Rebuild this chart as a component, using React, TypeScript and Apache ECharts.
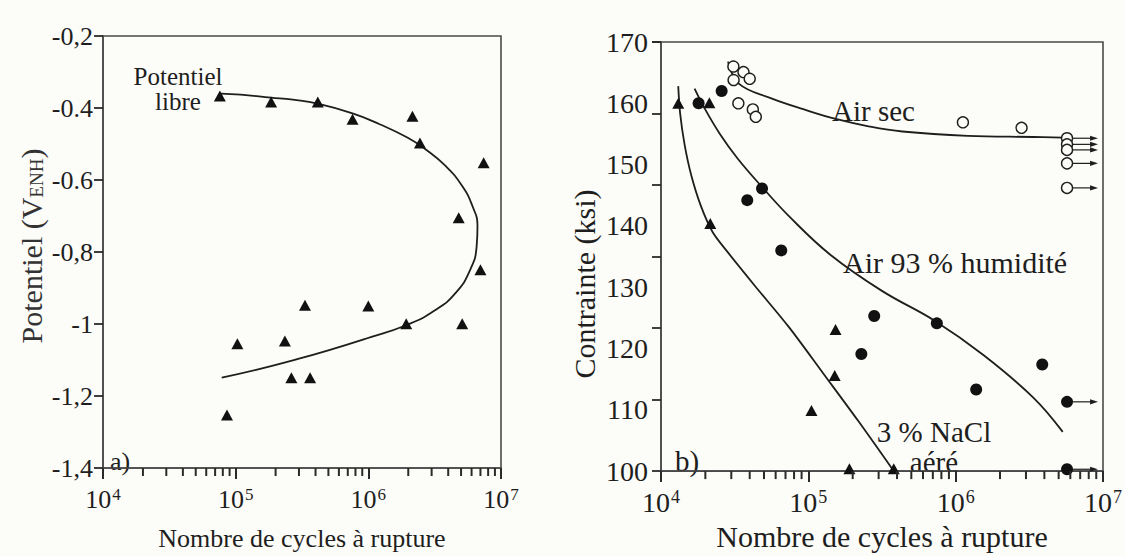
import React, { useEffect, useRef } from "react";
import * as echarts from "echarts";

const FONT = "'Liberation Serif', 'DejaVu Serif', 'Times New Roman', serif";
const INK = "#1e1e1e";
const FRAME = "#4a4a4a";
const TICK = "#2a2a2a";

// ---------- Panel a) : potential vs cycles ----------
const potentialTickLabels: Record<string, string> = {
  "-1.4": "-1,4",
  "-1.2": "-1,2",
  "-1": "-1",
  "-0.8": "-0,8",
  "-0.6": "-0.6",
  "-0.4": "-0.4",
  "-0.2": "-0,2",
};
const minorCycleTicks = [
  2e4, 3e4, 4e4, 5e4, 6e4, 7e4, 8e4, 9e4,
  2e5, 3e5, 4e5, 5e5, 6e5, 7e5, 8e5, 9e5,
  2e6, 3e6, 4e6, 5e6, 6e6, 7e6, 8e6, 9e6,
];
const freePotentialPoints: [number, number][] = [
  [76000, -0.367], [185000, -0.383], [416000, -0.383], [760000, -0.431],
  [2150000, -0.423], [2450000, -0.497], [7400000, -0.552], [4800000, -0.705],
  [7000000, -0.849], [333000, -0.948], [1000000, -0.95], [1930000, -0.999],
  [5100000, -0.999], [103000, -1.055], [235000, -1.047], [263000, -1.149],
  [364000, -1.149], [86000, -1.253],
];
const freePotentialCurve: [number, number][] = [
  [77400, -0.36], [109000, -0.363], [184500, -0.371], [270000, -0.377],
  [416000, -0.388], [760000, -0.415], [1216000, -0.445], [1968000, -0.482],
  [2660000, -0.513], [3820000, -0.561], [5100000, -0.617], [6100000, -0.673],
  [6650000, -0.728], [6550000, -0.785], [5850000, -0.85], [4570000, -0.913],
  [3180000, -0.962], [1968000, -1.002], [955000, -1.041], [492000, -1.074],
  [270000, -1.101], [147600, -1.126], [78500, -1.149],
];

// ---------- Panel b) : stress vs cycles ----------
const stressTicks = [100, 110, 120, 130, 140, 150, 160, 170];
const stressTickMarkStep = 70 / 6; // tick marks of the scanned axis (6 equal steps)
const airSecPoints: [number, number][] = [
  [31000, 166.0], [36300, 165.1], [31100, 163.8], [40000, 164.0],
  [33500, 160.0], [42000, 159.0], [44000, 157.8], [1120000, 156.9],
  [2800000, 156.0], [5700000, 154.3], [5700000, 153.3], [5700000, 152.4],
  [5700000, 150.2], [5700000, 146.2],
];
const airSecRunouts: [number, number][] = [
  [5700000, 154.3], [5700000, 153.3], [5700000, 152.4], [5700000, 150.2], [5700000, 146.2],
];
const airSecCurve: [number, number][] = [
  [28500, 166.8], [33700, 163.2], [56100, 160.8], [93500, 159.0],
  [156000, 157.4], [261000, 156.2], [435000, 155.4], [1208000, 154.7],
  [3365000, 154.5], [5330000, 154.4],
];
const humidPoints: [number, number][] = [
  [18000, 160.0], [25800, 162.0], [38500, 144.2], [48500, 146.1],
  [65500, 136.0], [280000, 125.3], [229000, 119.1], [745000, 124.1],
  [1378000, 113.3], [3870000, 117.4], [5700000, 111.3], [5700000, 100.3],
];
const humidRunouts: [number, number][] = [[5700000, 111.3], [5700000, 100.3]];
const humidCurve: [number, number][] = [
  [16900, 162.4], [19950, 159.0], [25100, 155.0], [33100, 151.0],
  [47900, 146.5], [75900, 141.3], [141000, 135.3], [316000, 129.4],
  [724000, 124.5], [1550000, 118.9], [3365000, 112.0], [5330000, 106.4],
];
const naclPoints: [number, number][] = [
  [13100, 160.0], [21300, 160.1], [21600, 140.4], [153000, 123.1],
  [151000, 115.6], [105000, 109.9], [190000, 100.4], [380000, 100.4],
];
const naclCurve: [number, number][] = [
  [13090, 162.8], [13490, 158.3], [14450, 153.3], [16030, 148.3],
  [18620, 143.3], [22390, 139.0], [28180, 135.8], [43450, 130.2],
  [74300, 123.4], [127400, 115.8], [217800, 108.2], [372400, 100.3],
];

const powLabel = (v: number) => {
  const e = Math.round(Math.log10(v));
  return `{b|10}{s|${e}}`;
};

const runoutSeries = (data: [number, number][]) => ({
  type: "custom",
  xAxisIndex: 1,
  yAxisIndex: 1,
  silent: true,
  clip: false,
  z: 2,
  data,
  renderItem: (_p: any, api: any) => {
    const pt = api.coord([api.value(0), api.value(1)]);
    const x0 = pt[0] + 6;
    const x1 = pt[0] + 31;
    return {
      type: "group",
      children: [
        { type: "line", shape: { x1: x0, y1: pt[1], x2: x1 - 5, y2: pt[1] }, style: { stroke: INK, lineWidth: 1.2 } },
        {
          type: "polygon",
          shape: { points: [[x1, pt[1]], [x1 - 8, pt[1] - 2.6], [x1 - 8, pt[1] + 2.6]] },
          style: { fill: INK },
        },
      ],
    };
  },
});

const xAxisBase = (gridIndex: number, fs: number, sup: number, margin: number, nameGap: number, nameSize: number) => ({
  type: "log",
  gridIndex,
  logBase: 10,
  min: 1e4,
  max: 1e7,
  name: "Nombre de cycles à rupture",
  nameLocation: "middle",
  nameGap,
  nameTextStyle: { fontFamily: FONT, fontSize: nameSize, color: INK },
  axisLine: { show: true, lineStyle: { color: FRAME, width: 1.6 } },
  axisTick: { show: true, inside: false, length: 11, lineStyle: { color: TICK, width: 2 } },
  minorTick: { show: false },
  splitLine: { show: false },
  axisLabel: {
    margin,
    formatter: powLabel,
    rich: {
      b: { fontFamily: FONT, fontSize: fs, color: INK },
      s: { fontFamily: FONT, fontSize: sup, color: INK, verticalAlign: "top", padding: [0, 0, 0, 1] },
    },
  },
});

const buildGraphics = (minorTicks: any[]) => [
  ...minorTicks,
  {
    type: "text",
    x: 31,
    y: 246,
    rotation: Math.PI / 2,
    style: {
      text: "{a|Potentiel (V}{sub|ENH}{a|)}",
      align: "center",
      verticalAlign: "middle",
      rich: {
        a: { fontFamily: FONT, fontSize: 30, fill: "#333", color: "#333" },
        sub: { fontFamily: FONT, fontSize: 19, fill: "#333", color: "#333", verticalAlign: "bottom" },
      },
    },
  },
  {
    type: "text",
    x: 584,
    y: 284,
    rotation: Math.PI / 2,
    style: { text: "Contrainte (ksi)", font: `30px ${FONT}`, fill: INK, align: "center", verticalAlign: "middle" },
  },
  {
    type: "text",
    x: 178,
    y: 64,
    style: { text: "Potentiel\nlibre", font: `25px ${FONT}`, fill: INK, align: "center", lineHeight: 25 },
  },
  { type: "text", left: 110, top: 448, style: { text: "a)", font: `26px ${FONT}`, fill: INK } },
  { type: "text", left: 832, top: 96, style: { text: "Air sec", font: `29px ${FONT}`, fill: INK } },
  { type: "text", left: 843, top: 247, style: { text: "Air 93 % humidité", font: `30px ${FONT}`, fill: INK } },
  {
    type: "text",
    x: 934,
    y: 417,
    style: { text: "3 % NaCl\naéré", font: `29px ${FONT}`, fill: INK, align: "center", lineHeight: 30 },
  },
  { type: "text", left: 675, top: 446, style: { text: "b)", font: `29px ${FONT}`, fill: INK } },
];

const App: React.FC = () => {
  const ref = useRef<HTMLDivElement>(null);

  useEffect(() => {
    if (!ref.current) return;
    const chart = echarts.init(ref.current, undefined, { renderer: "svg" });

    const option: any = {
      animation: false,
      backgroundColor: "#fcfcf8",
      grid: [
        { left: 103, top: 36, width: 398, height: 436, show: true, borderColor: FRAME, borderWidth: 1.6, backgroundColor: "transparent" },
        { left: 661, top: 42, width: 450, height: 440, show: true, borderColor: FRAME, borderWidth: 1.6, backgroundColor: "transparent" },
      ],
      xAxis: [xAxisBase(0, 26, 17, 18, 57, 26), xAxisBase(1, 28, 18, 17, 44, 30)],
      yAxis: [
        {
          type: "value",
          gridIndex: 0,
          position: "left",
          min: -1.4,
          max: -0.2,
          interval: 0.2,
          axisLine: { show: true, lineStyle: { color: FRAME, width: 1.6 } },
          axisTick: { show: true, length: 9, lineStyle: { color: TICK, width: 1.8 } },
          splitLine: { show: false },
          axisLabel: {
            margin: 10,
            fontFamily: FONT,
            fontSize: 26,
            color: INK,
            formatter: (v: number) => potentialTickLabels[String(Math.round(v * 10) / 10)] ?? "",
          },
        },
        {
          type: "value",
          gridIndex: 1,
          position: "left",
          min: 100,
          max: 170,
          interval: 10,
          axisLine: { show: true, lineStyle: { color: FRAME, width: 1.6 } },
          axisTick: { show: false },
          splitLine: { show: false },
          axisLabel: {
            margin: 13,
            fontFamily: FONT,
            fontSize: 28,
            color: INK,
            formatter: (v: number) => (stressTicks.includes(Math.round(v)) ? String(Math.round(v)) : ""),
          },
        },
        {
          type: "value",
          gridIndex: 1,
          position: "left",
          offset: 0,
          min: 100,
          max: 170,
          interval: stressTickMarkStep,
          axisLine: { show: false },
          axisTick: { show: true, length: 9, lineStyle: { color: TICK, width: 1.8 } },
          axisLabel: { show: false },
          splitLine: { show: false },
        },
      ],
      series: [
        {
          name: "Courbe potentiel libre",
          type: "line",
          xAxisIndex: 0,
          yAxisIndex: 0,
          data: freePotentialCurve,
          smooth: 0.5,
          showSymbol: false,
          symbol: "none",
          lineStyle: { color: INK, width: 1.8 },
          z: 2,
        },
        {
          name: "Potentiel imposé",
          type: "scatter",
          xAxisIndex: 0,
          yAxisIndex: 0,
          data: freePotentialPoints,
          symbol: "triangle",
          symbolSize: [12, 11],
          itemStyle: { color: "#111", opacity: 1 },
          z: 3,
        },
        {
          name: "Courbe air sec",
          type: "line",
          xAxisIndex: 1,
          yAxisIndex: 1,
          data: airSecCurve,
          smooth: 0.4,
          symbol: "none",
          lineStyle: { color: INK, width: 1.8 },
          z: 2,
        },
        {
          name: "Courbe air humide",
          type: "line",
          xAxisIndex: 1,
          yAxisIndex: 1,
          data: humidCurve,
          smooth: 0.4,
          symbol: "none",
          lineStyle: { color: INK, width: 1.8 },
          z: 2,
        },
        {
          name: "Courbe NaCl",
          type: "line",
          xAxisIndex: 1,
          yAxisIndex: 1,
          data: naclCurve,
          smooth: 0.3,
          symbol: "none",
          lineStyle: { color: INK, width: 1.8 },
          z: 2,
        },
        runoutSeries(airSecRunouts),
        runoutSeries(humidRunouts),
        {
          name: "Air sec",
          type: "scatter",
          xAxisIndex: 1,
          yAxisIndex: 1,
          data: airSecPoints,
          symbol: "circle",
          symbolSize: 11,
          itemStyle: { color: "#fcfcf8", borderColor: INK, borderWidth: 1.4, opacity: 1 },
          z: 4,
        },
        {
          name: "Air 93 % humidité",
          type: "scatter",
          xAxisIndex: 1,
          yAxisIndex: 1,
          data: humidPoints,
          symbol: "circle",
          symbolSize: 12,
          itemStyle: { color: "#111", opacity: 1 },
          z: 4,
        },
        {
          name: "3 % NaCl aéré",
          type: "scatter",
          xAxisIndex: 1,
          yAxisIndex: 1,
          data: naclPoints,
          symbol: "triangle",
          symbolSize: [12, 11],
          itemStyle: { color: "#111", opacity: 1 },
          z: 4,
        },
      ],
      graphic: buildGraphics([]),
    };

    chart.setOption(option);

    // minor logarithmic ticks (2..9 x 10^n) placed through the chart's own x scales
    const minorTicks: any[] = [];
    const panels: [number, number][] = [[0, -1.4], [1, 100]];
    panels.forEach(([gridIndex, yMin]) => {
      minorCycleTicks.forEach((v) => {
        const p = chart.convertToPixel({ gridIndex } as any, [v, yMin]) as number[];
        if (!p || !isFinite(p[0]) || !isFinite(p[1])) return;
        minorTicks.push({
          type: "line",
          silent: true,
          z: 10,
          shape: { x1: p[0], y1: p[1], x2: p[0], y2: p[1] + 8 },
          style: { stroke: TICK, lineWidth: 2 },
        });
      });
    });
    chart.setOption({ graphic: buildGraphics(minorTicks) }, { replaceMerge: ["graphic"] });

    return () => chart.dispose();
  }, []);

  return (
    <div
      ref={ref}
      style={{ position: "fixed", left: 0, top: 0, width: 1125, height: 556 }}
    />
  );
};

export default App;
